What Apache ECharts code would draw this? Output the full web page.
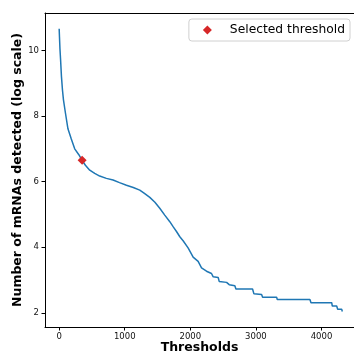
<!DOCTYPE html>
<html>
<head>
<meta charset="utf-8">
<script src="https://cdn.jsdelivr.net/npm/echarts@6/dist/echarts.min.js"></script>
<style>html,body{margin:0;padding:0;background:#fff;}#c{width:354px;height:354px;}</style>
</head>
<body>
<div id="c"></div>
<script>
var thresholds = [0, 5, 12, 22, 35, 50, 65, 95, 134, 185, 237, 300, 350, 400, 466, 542, 618, 720, 822, 920, 1026, 1130, 1229, 1300, 1382, 1460, 1534, 1610, 1687, 1740, 1789, 1840, 1890, 1966, 2043, 2119, 2171, 2247, 2323, 2349, 2425, 2440, 2553, 2593, 2679, 2695, 2949, 2970, 3087, 3102, 3316, 3326, 3824, 3840, 4156, 4165, 4232, 4247, 4308, 4318];
var counts = [10.66, 10.4, 10.05, 9.7, 9.2, 8.8, 8.5, 8.1, 7.61, 7.3, 7.0, 6.82, 6.65, 6.5, 6.35, 6.25, 6.17, 6.1, 6.05, 5.97, 5.89, 5.82, 5.74, 5.64, 5.52, 5.37, 5.19, 4.98, 4.78, 4.62, 4.48, 4.32, 4.2, 3.98, 3.7, 3.57, 3.37, 3.27, 3.2, 3.1, 3.08, 2.96, 2.93, 2.86, 2.83, 2.73, 2.73, 2.58, 2.56, 2.48, 2.48, 2.41, 2.41, 2.31, 2.31, 2.21, 2.21, 2.11, 2.11, 2.04];
var selectedThreshold = [350, 6.65];
var xTicks = [0, 1000, 2000, 3000, 4000];
var yTicks = [2, 4, 6, 8, 10];

var lineData = thresholds.map(function (t, i) { return [t, counts[i]]; });
var chart = echarts.init(document.getElementById('c'), null, {renderer: 'canvas'});
var font = 'DejaVu Sans';
function plain(v) { return String(v); }
chart.setOption({
  animation: false,
  backgroundColor: '#fff',
  grid: {left: 45, top: 13, right: 0, bottom: 27, containLabel: false, outerBoundsMode: 'none'},
  legend: {
    data: [{name: 'Selected threshold', icon: 'diamond'}],
    right: 4, top: 19,
    itemWidth: 9, itemHeight: 9,
    padding: [5, 5, 5, 14],
    borderColor: '#d0d0d0', borderWidth: 1, borderRadius: 3,
    backgroundColor: 'rgba(255,255,255,0.8)',
    textStyle: {fontFamily: font, fontSize: 12.3, color: '#000', padding: [0, 0, 0, 13]}
  },
  xAxis: [{
    type: 'value', min: -216, max: 4496,
    name: 'Thresholds', nameLocation: 'middle', nameGap: 14, nameMoveOverlap: false,
    nameTextStyle: {fontFamily: font, fontSize: 12.5, fontWeight: 'bold', color: '#000'},
    axisLine: {show: true, onZero: false, lineStyle: {color: '#000', width: 1}},
    axisTick: {show: true, length: 3.5, lineStyle: {color: '#000'}, customValues: xTicks},
    axisLabel: {fontFamily: font, fontSize: 8.5, color: '#111', margin: 5, customValues: xTicks, formatter: plain},
    splitLine: {show: false}
  }, {
    type: 'value', position: 'top', min: -216, max: 4496,
    axisLine: {show: true, onZero: false, lineStyle: {color: '#000', width: 1}},
    axisTick: {show: false}, axisLabel: {show: false}, splitLine: {show: false}
  }],
  yAxis: {
    type: 'value', min: 1.57, max: 11.14,
    name: 'Number of mRNAs detected (log scale)', nameLocation: 'middle', nameGap: 21, nameMoveOverlap: false,
    nameTextStyle: {fontFamily: font, fontSize: 12.5, fontWeight: 'bold', color: '#000'},
    axisLine: {show: true, onZero: false, lineStyle: {color: '#000', width: 1}},
    axisTick: {show: true, length: 3.5, lineStyle: {color: '#000'}, customValues: yTicks},
    axisLabel: {fontFamily: font, fontSize: 8.5, color: '#111', margin: 6, customValues: yTicks, formatter: plain},
    splitLine: {show: false}
  },
  series: [
    {type: 'line', name: 'curve', data: lineData, showSymbol: false, symbol: 'none',
     lineStyle: {color: '#1f77b4', width: 1.5}, itemStyle: {color: '#1f77b4'}, z: 2},
    {type: 'scatter', name: 'Selected threshold', data: [selectedThreshold], symbol: 'diamond', symbolSize: 9,
     itemStyle: {color: '#d62728', opacity: 1}, z: 3}
  ]
});
</script>
</body>
</html>
